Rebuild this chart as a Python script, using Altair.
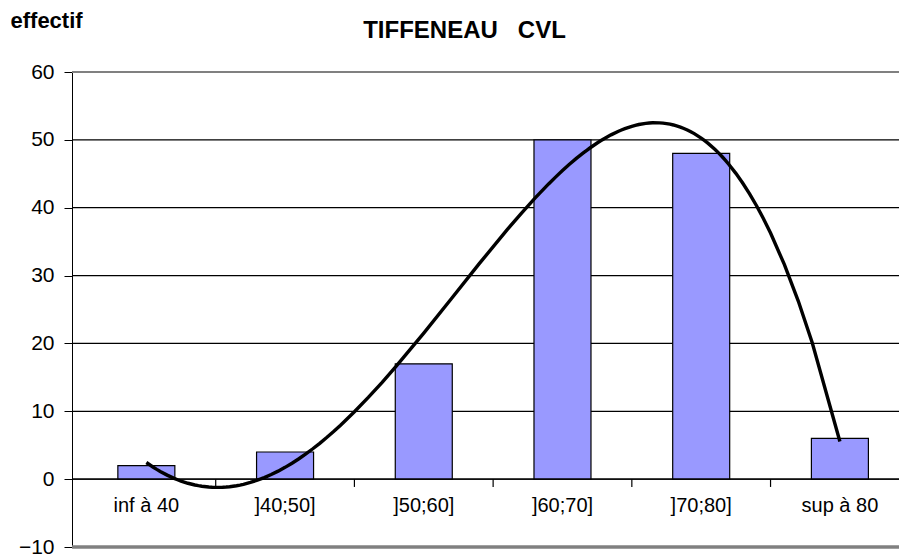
import altair as alt
import pandas as pd

categories = ["inf à 40", "]40;50]", "]50;60]", "]60;70]", "]70;80]", "sup à 80"]
effectif = [2, 4, 17, 50, 48, 6]
positions = [1, 2, 3, 4, 5, 6]
boundaries = [1.5, 2.5, 3.5, 4.5, 5.5]
y_ticks = [-10, 0, 10, 20, 30, 40, 50, 60]
grid_black = [0, 10, 20, 30, 40, 50]
grid_top = [60]
grid_bottom = [-10]

df = pd.DataFrame({"cat": categories, "value": effectif, "idx": positions})
FONT = "Liberation Sans"

xs = alt.Scale(domain=[0.5, 6.39], nice=False, zero=False)
ys = alt.Scale(domain=[-10, 60], nice=False, zero=False)
yaxis = alt.Axis(values=y_ticks, grid=False, labelFontSize=21, labelFont=FONT,
                 labelColor="black", tickColor="black", domainColor="black",
                 tickSize=8, labelPadding=10, title="effectif", titleAngle=0,
                 titleX=-62, titleY=-45, titleAlign="left", titleBaseline="alphabetic",
                 titleFontSize=22, titleFontWeight="bold", titleFont=FONT, titleColor="black")

grid = alt.Chart(pd.DataFrame({"g": grid_black})).mark_rule(color="black", strokeWidth=1.2).encode(
    y=alt.Y("g:Q", scale=ys, axis=yaxis))
top = alt.Chart(pd.DataFrame({"g": grid_top})).mark_rule(color="#808080", strokeWidth=2).encode(
    y=alt.Y("g:Q", scale=ys, axis=yaxis))
bottom = alt.Chart(pd.DataFrame({"g": grid_bottom})).mark_rule(color="#808080", strokeWidth=3.5).encode(
    y=alt.Y("g:Q", scale=ys, axis=yaxis))

bars = alt.Chart(df).mark_bar(size=57, color="#9999FF", stroke="black", strokeWidth=1.2).encode(
    x=alt.X("idx:Q", scale=xs, axis=None),
    y=alt.Y("value:Q", scale=ys, axis=yaxis),
    y2=alt.Y2(datum=0))

ticks = alt.Chart(pd.DataFrame({"b": boundaries})).mark_rule(color="black", strokeWidth=1.2).encode(
    x=alt.X("b:Q", scale=xs, axis=None),
    y=alt.Y(datum=0, scale=ys, axis=yaxis),
    y2=alt.Y2(datum=-1.15))

zero = alt.Chart(pd.DataFrame({"g": [0]})).mark_rule(color="black", strokeWidth=1.2).encode(
    y=alt.Y("g:Q", scale=ys, axis=yaxis))

curve = alt.Chart(df).transform_regression(
    "idx", "value", method="poly", order=4, extent=[1, 6]
).mark_line(color="black", strokeWidth=3.4).encode(
    x=alt.X("idx:Q", scale=xs, axis=None),
    y=alt.Y("value:Q", scale=ys, axis=yaxis))

labels = alt.Chart(df).mark_text(fontSize=20, font=FONT, color="black", baseline="alphabetic", dy=33).encode(
    x=alt.X("idx:Q", scale=xs, axis=None),
    y=alt.Y(datum=0, scale=ys, axis=yaxis),
    text="cat:N")

chart = alt.layer(grid, top, bottom, bars, zero, ticks, curve, labels).properties(
    width=827, height=475,
    title=alt.TitleParams("TIFFENEAU\u00a0\u00a0 CVL", fontSize=24, fontWeight="bold", font=FONT,
                          color="black", anchor="middle", dx=-21, offset=-53, baseline="alphabetic"),
    autosize=alt.AutoSizeParams(type="none"),
    padding={"left": 64, "top": 64, "right": 0, "bottom": 8},
).configure_view(strokeWidth=0).configure(background="white")

chart.save("out.html", embed_options={"renderer": "svg", "actions": False})
